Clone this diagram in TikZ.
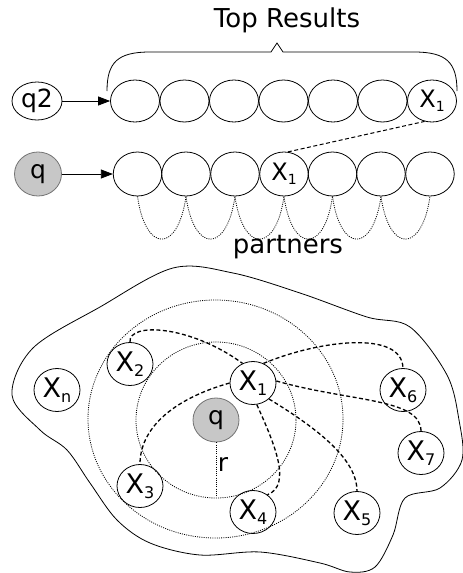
\documentclass[tikz,border=0pt]{standalone}
\usepackage{fontspec}
\setmainfont{DejaVu Sans}
\usetikzlibrary{shapes.geometric,arrows.meta}
\newcommand\mysub[1]{\raisebox{-4pt}{\fontsize{14}{14}\selectfont #1}}
\newcommand\mysubb[1]{\raisebox{-5pt}{\fontsize{16}{16}\selectfont #1}}
\begin{document}
\begin{tikzpicture}[x=1pt,y=-1pt,
  cell/.style={draw,ellipse,minimum width=49pt,minimum height=42pt,inner sep=0pt,line width=0.8pt,font=\fontsize{24}{24}\selectfont},
  sn/.style={draw,ellipse,minimum width=46pt,minimum height=43pt,inner sep=0pt,line width=0.8pt,font=\fontsize{27}{27}\selectfont},
  qn/.style={draw=black!55,fill=black!22,ellipse,inner sep=0pt,line width=0.8pt,font=\fontsize{25}{25}\selectfont},
  arr/.style={-{Triangle[length=12pt,width=9pt]},line width=0.8pt},
  dsh/.style={line width=1.3pt,dash pattern=on 4pt off 2.5pt},
  dotc/.style={line width=0.8pt,dash pattern=on 1pt off 1.2pt},
  lbl/.style={font=\fontsize{26}{26}\selectfont,inner sep=0pt}
]
\useasboundingbox (0,0) rectangle (463,573);
% top
\node[lbl] (top) at (287,20) {Top Results};
\draw[line width=0.8pt] (107,91) .. controls (107,62) and (118,52) .. (150,52) -- (271,52) -- (277,43) -- (283,52) -- (414,52) .. controls (446,52) and (457,62) .. (457,91);
\node[draw,ellipse,minimum width=50pt,minimum height=38pt,inner sep=0pt,line width=0.8pt,font=\fontsize{25}{25}\selectfont] (q2) at (37,101) {q2};
\foreach \i/\x in {1/135,2/184.5,3/234,4/283.5,5/333,6/382.5} \node[cell] (a\i) at (\x,101) {};
\node[cell] (a7) at (432,101) {X\mysub{1}};
\draw[arr] (q2) -- (a1);
% second row
\node[qn,minimum width=47pt,minimum height=44pt] (q) at (38,174) {q};
\foreach \i/\x in {1/137.5,2/186,3/235,5/332.5,6/381,7/430} \node[cell,minimum width=48.5pt,minimum height=44pt] (b\i) at (\x,174) {};
\node[cell,minimum width=48.5pt,minimum height=44pt] (b4) at (284,174) {X\mysub{1}};
\draw[arr] (q) -- (b1);
\draw[dsh,line width=1pt] (b4.80) -- (a7.-110);
\foreach \i/\j in {1/2,2/3,3/4,4/5,5/6,6/7}
  \draw[dotc] (b\i.south) .. controls +(8,57) and +(-8,57) .. (b\j.south);
\node[lbl] (partners) at (288,247) {partners};
% bottom
\draw[line width=0.8pt] plot[smooth cycle,tension=0.55] coordinates {
 (12,395) (33,348) (100,307) (173,268) (233,273) (300,293) (367,317) (410,327) (447,375) (459,420) (462,460) (440,488) (405,498) (393,535) (375,567) (350,572) (320,563) (260,552) (200,555) (150,543) (117,520) (90,483) (67,450) (40,430)};
\node[qn,minimum width=46pt,minimum height=44pt] (qq) at (216,420) {q};
\draw[dotc] (216,420) ellipse[x radius=80, y radius=78];
\draw[dotc] (215.5,419) ellipse[x radius=127.5, y radius=119];
\coordinate (rend) at (216,497);
\draw[dotc] (qq.south) -- (rend);
\node[lbl,font=\fontsize{25}{25}\selectfont] (r) at (223,464) {r};
\node[sn] (x1) at (253,383) {X\mysubb{1}};
\node[sn] (x2) at (130,364) {X\mysubb{2}};
\node[sn] (xn) at (57,390) {X\mysubb{n}};
\node[sn] (x6) at (403,390) {X\mysubb{6}};
\node[sn] (x7) at (421,453) {X\mysubb{7}};
\node[sn] (x3) at (140,486) {X\mysubb{3}};
\node[sn] (x4) at (253,512) {X\mysubb{4}};
\node[sn] (x5) at (357,513) {X\mysubb{5}};
\draw[dsh] (x2.north) .. controls (128,322) and (190,325) .. (x1.118);
\draw[dsh] (x1.62) .. controls (320,340) and (402,330) .. (x6.north);
\draw[dsh] (x1.5) .. controls (350,402) and (421,398) .. (x7.north);
\draw[dsh] (x1.west) .. controls (170,400) and (140,430) .. (x3.north);
\draw[dsh] (x1.280) .. controls (275,445) and (292,485) .. (x4.50);
\draw[dsh] (x1.-45) .. controls (320,430) and (357,460) .. (x5.north);
\end{tikzpicture}
\end{document}
